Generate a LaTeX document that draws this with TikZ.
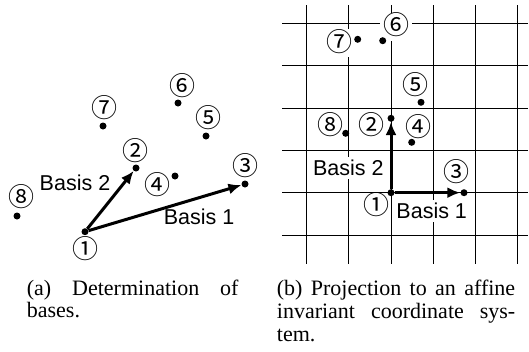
\documentclass[tikz,border=0pt]{standalone}
\usepackage{fontspec}
\setmainfont{Liberation Serif}
\setsansfont{Liberation Sans}
\newfontfamily\circfont{Noto Sans CJK JP}
\usetikzlibrary{arrows.meta,positioning}

\begin{document}
\begin{tikzpicture}[
    x=1pt, y=-1pt,
    dot/.style={circle, fill=black, inner sep=0pt, minimum size=7pt},
    num/.style={font=\circfont\fontsize{26}{26}\selectfont, inner sep=0pt, text height=19pt, text depth=3pt},
    numw/.style={num, fill=white, inner sep=0pt},
    basis/.style={font=\sffamily\fontsize{21.5}{21.5}\selectfont, inner sep=1pt},
    vec/.style={-{Latex[length=13pt,width=11pt]}, line width=3pt},
    gridline/.style={line width=1pt},
    capt/.style={font=\rmfamily\fontsize{22}{23}\selectfont, inner sep=0pt, anchor=base west}
  ]
  \useasboundingbox (0,0) rectangle (529,351);

  % (a) determination of bases
  \node[dot] (a1) at (85,231.7) {};
  \node[dot] (a2) at (136,168) {};
  \node[dot] (a3) at (245,184) {};
  \node[dot] (a4) at (175,176) {};
  \node[dot] (a5) at (206,136) {};
  \node[dot] (a6) at (178,103) {};
  \node[dot] (a7) at (103,126) {};
  \node[dot] (a8) at (17,216) {};
  \node[num] (na1) at (85,250) {①};
  \node[num] (na2) at (135,152) {②};
  \node[num] (na3) at (245,167) {③};
  \node[num] (na4) at (157,186) {④};
  \node[num] (na5) at (208,119) {⑤};
  \node[num] (na6) at (182,87) {⑥};
  \node[num] (na7) at (104,109) {⑦};
  \node[num] (na8) at (22,198) {⑧};
  \draw[vec] (a1) -- (a2);
  \draw[vec] (a1) -- (a3);
  \node[basis] (ba2) at (75,183) {Basis 2};
  \node[basis] (ba1) at (199,217) {Basis 1};

  % (b) affine invariant coordinate system
  \foreach \i in {0,...,5} {
    \draw[gridline] ({306.8+42.1*\i},5) -- ({306.8+42.1*\i},264);
    \draw[gridline] (282,{23.3+42.35*\i}) -- (528,{23.3+42.35*\i});
  }
  \node[numw] (nb1) at (376.7,206.7) {①};
  \node[numw] (nb2) at (371.7,126) {②};
  \node[numw] (nb3) at (456.7,173.3) {③};
  \node[numw] (nb4) at (418.3,128.3) {④};
  \node[numw] (nb5) at (415,86) {⑤};
  \node[numw, inner sep=3pt] (nb6) at (396,26.5) {⑥};
  \node[numw, inner sep=3pt] (nb7) at (339.3,43.3) {⑦};
  \node[numw] (nb8) at (330,126) {⑧};
  \node[basis, fill=white, inner sep=3pt] (bb2) at (348.3,168.3) {Basis 2};
  \node[basis, fill=white, inner sep=3pt] (bb1) at (431.7,210.7) {Basis 1};
  \node[dot] (b1) at (391,192.7) {};
  \node[dot] (b2) at (391,118.3) {};
  \node[dot] (b3) at (464,192.7) {};
  \node[dot] (b4) at (411.7,142.3) {};
  \node[dot] (b5) at (421,102.3) {};
  \node[dot] (b6) at (382.7,40.7) {};
  \node[dot] (b7) at (357.7,39.3) {};
  \node[dot] (b8) at (345.7,133.3) {};
  \draw[vec] (b1) -- (b2);
  \draw[vec] (b1) -- (b3);

  % captions
  \node[capt] (capa1) at (26.7,295) {\makebox[211.6pt][s]{(a) Determination of}};
  \node[capt] (capa2) at (26.7,317) {bases.};
  \node[capt] (capb1) at (276.7,295) {\makebox[238.3pt][s]{(b) Projection to an affine}};
  \node[capt] (capb2) at (276.7,318) {\makebox[238.3pt][s]{invariant coordinate sys-}};
  \node[capt] (capb3) at (276.7,341) {tem.};
\end{tikzpicture}
\end{document}
